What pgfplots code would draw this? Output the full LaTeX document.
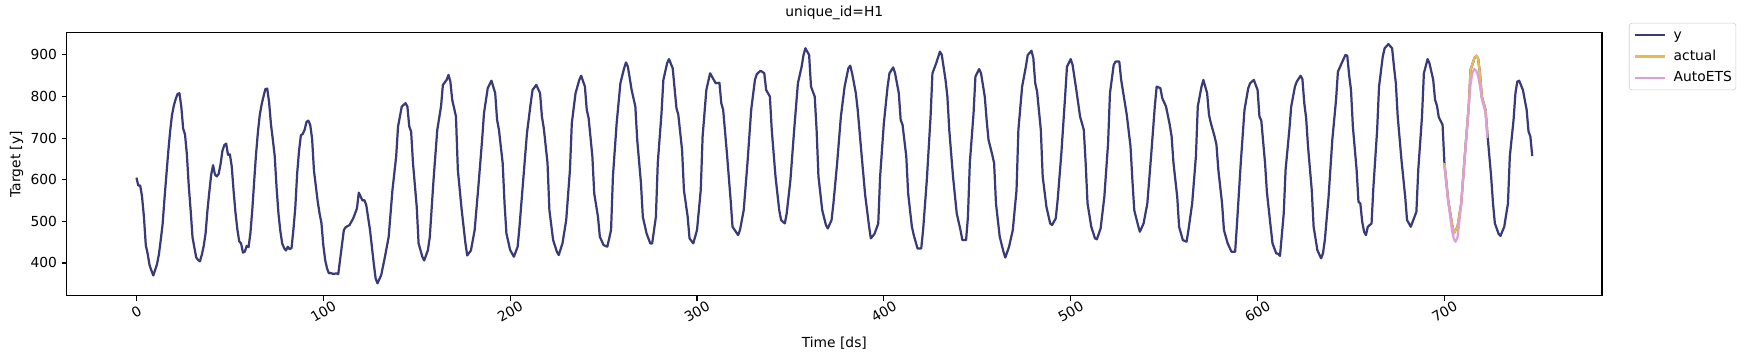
\documentclass[border=0pt]{standalone}
\usepackage{fontspec}
\setmainfont{DejaVu Sans}
\usepackage{pgfplots}
\pgfplotsset{compat=1.18}
\definecolor{ycol}{HTML}{393B79}
\definecolor{actcol}{HTML}{E7BA52}
\definecolor{etscol}{HTML}{DE9ED6}
\definecolor{legframe}{HTML}{CCCCCC}
\begin{document}
\fontsize{10}{12}\selectfont
\begin{tikzpicture}
\useasboundingbox (-48bp,-47.1bp) rectangle (1210bp,212.9bp);
\begin{axis}[
  at={(0,0)}, anchor=south west,
  width=1105.6bp, height=189.4bp, scale only axis,
  xmin=-37.35, xmax=784.35, ymin=321.4, ymax=953.6,
  xtick={0,100,200,300,400,500,600,700},
  ytick={400,500,600,700,800,900},
  tick align=outside, tick pos=left, major tick length=3.5bp,
  every tick/.style={black, line width=0.8bp},
  axis line style={line width=0.8bp},
  /pgf/number format/assume math mode=true,
  ticklabel style={font=\fontsize{10}{12}\selectfont},
  xticklabel style={rotate=30, anchor=center},
  xticklabel shift=8bp,
  title={unique\_id=H1},
  every axis title/.style={at={(axis description cs:0.5,1)}, anchor=center, yshift=13.9bp, font=\fontsize{10}{12}\selectfont},
  xlabel={Time [ds]}, ylabel={Target [y]},
  every axis x label/.style={at={(axis description cs:0.5,-0.1795)}, anchor=center, font=\fontsize{10}{12}\selectfont},
  every axis y label/.style={at={(axis description cs:-0.03256,0.5)}, rotate=90, anchor=center, font=\fontsize{10}{12}\selectfont},
  legend style={at={(axis description cs:1.01755,1.037)}, anchor=north west,
    draw=legframe, rounded corners=2bp, fill=white,
    inner xsep=3bp, inner ysep=3.8bp, row sep=5.5bp, column sep=5.8bp,
    nodes={inner sep=0pt, text height=7.6bp, text depth=2.2bp},
    font=\fontsize{10}{12}\selectfont},
  legend cell align=left,
  legend image code/.code={\draw[#1] (0bp,0bp) -- (21.6bp,0bp);},
]
\addplot[ycol, line width=1.6bp, line join=round, mark=none] coordinates {
(0,605) (1,586) (2,586) (3,559) (4,511) (5,443) (6,422) (7,395) (8,382) (9,370)
(10,383) (11,397) (12,420) (13,455) (14,493) (15,554) (16,610) (17,666) (18,715) (19,755)
(20,778) (21,794) (22,806) (23,808) (24,776) (25,723) (26,709) (27,660) (28,585) (29,527)
(30,462) (31,437) (32,413) (33,407) (34,404) (35,420) (36,441) (37,471) (38,526) (39,571)
(40,612) (41,635) (42,613) (43,608) (44,614) (45,637) (46,669) (47,683) (48,687) (49,660)
(50,661) (51,632) (52,573) (53,521) (54,481) (55,452) (56,447) (57,425) (58,427) (59,441)
(60,438) (61,472) (62,528) (63,596) (64,661) (65,714) (66,756) (67,781) (68,800) (69,818)
(70,819) (71,786) (72,733) (73,696) (74,657) (75,581) (76,519) (77,477) (78,447) (79,436)
(80,430) (81,439) (82,433) (83,436) (84,480) (85,532) (86,614) (87,669) (88,707) (89,710)
(90,720) (91,739) (92,742) (93,732) (94,699) (95,622) (96,585) (97,548) (98,519) (99,496)
(100,443) (101,407) (102,387) (103,375) (104,376) (105,374) (106,374) (107,375) (108,373)
(111,479) (112,486) (114,491) (116,507) (118,531) (119,569) (121,550) (122,551) (123,539)
(125,479) (127,399) (128,363) (129,351) (131,371) (133,415) (135,463) (137,575) (139,656)
(140,728) (142,776) (144,784) (145,776) (146,728) (147,716) (148,640) (150,535) (151,447)
(153,415) (154,406) (156,431) (157,463) (159,600) (161,720) (163,776) (164,828) (166,840)
(167,852) (168,836) (169,792) (171,752) (172,624) (174,530) (176,450) (177,418) (179,430)
(181,479) (183,584) (185,696) (186,760) (188,820) (190,838) (192,808) (193,744) (194,720)
(196,640) (197,543) (198,471) (200,431) (202,415) (204,439) (205,487) (207,600) (209,712)
(211,784) (212,816) (214,828) (216,808) (217,752) (218,724) (220,640) (221,527) (223,455)
(225,427) (226,419) (228,447) (230,503) (232,624) (233,736) (235,808) (237,840) (238,850)
(240,824) (241,768) (242,748) (244,656) (245,567) (247,511) (248,463) (250,443) (252,439)
(254,479) (255,608) (257,736) (259,832) (261,868) (262,882) (263,872) (265,816) (267,776)
(268,696) (270,592) (271,511) (273,471) (275,447) (276,447) (278,511) (279,640) (281,760)
(282,840) (284,880) (285,890) (287,868) (289,772) (290,756) (292,672) (293,575) (295,511)
(296,459) (298,447) (300,479) (302,575) (303,704) (305,816) (307,856) (309,840) (310,832)
(312,833) (313,784) (314,768) (316,664) (318,551) (319,487) (322,467) (323,479) (325,527)
(327,640) (329,768) (331,840) (332,854) (334,862) (336,856) (337,816) (339,800) (340,720)
(342,608) (344,527) (345,503) (347,495) (348,519) (350,600) (352,720) (354,832) (356,872)
(357,900) (358,916) (360,900) (361,824) (363,800) (364,720) (365,608) (367,527) (369,491)
(370,483) (372,503) (373,543) (375,640) (377,752) (379,824) (381,868) (382,874) (383,856)
(385,808) (386,768) (388,664) (390,563) (392,491) (393,459) (395,470) (397,495) (398,608)
(400,736) (402,824) (403,856) (405,870) (406,856) (408,808) (409,744) (410,732) (412,656)
(413,567) (415,487) (416,467) (418,435) (420,435) (421,479) (423,600) (425,752) (426,856)
(428,880) (430,908) (431,900) (433,840) (434,800) (435,720) (437,608) (439,519) (441,479)
(442,455) (444,455) (445,511) (446,640) (448,760) (449,848) (451,866) (452,856) (454,800)
(455,744) (456,696) (458,660) (459,640) (460,543) (462,463) (464,427) (465,413) (467,439)
(469,479) (471,575) (472,720) (474,824) (476,872) (477,900) (479,910) (480,892) (481,832)
(482,812) (484,720) (485,608) (487,535) (489,495) (490,491) (492,507) (493,551) (495,664)
(497,800) (498,872) (500,890) (501,876) (503,816) (505,752) (507,720) (508,640) (509,543)
(511,487) (513,459) (514,457) (516,483) (518,559) (520,688) (521,808) (523,876) (524,884)
(526,884) (527,840) (529,784) (530,756) (532,680) (533,600) (534,527) (536,491) (537,475)
(539,495) (541,543) (543,656) (545,776) (546,824) (548,820) (549,796) (551,776) (553,732)
(554,704) (555,640) (557,559) (558,487) (560,455) (562,451) (563,479) (565,543) (567,656)
(568,776) (570,824) (571,840) (573,808) (574,756) (575,736) (577,704) (578,684) (579,624)
(581,543) (582,479) (584,447) (586,427) (588,427) (589,495) (591,640) (593,768) (595,820)
(596,832) (598,840) (600,816) (601,752) (602,742) (604,640) (605,570) (607,487) (608,447)
(610,423) (611,422) (612,417) (614,519) (615,624) (617,720) (618,776) (620,824) (621,836)
(623,850) (624,842) (625,784) (626,748) (627,680) (629,575) (630,487) (632,431) (634,411)
(635,423) (636,455) (638,559) (640,696) (642,792) (643,860) (645,880) (647,900) (648,898)
(649,852) (650,816) (651,728) (653,624) (654,547) (655,543) (656,499) (657,475) (658,467)
(659,487) (661,495) (662,583) (664,720) (665,824) (667,896) (668,916) (670,926) (672,916)
(673,872) (674,832) (675,752) (677,648) (679,559) (680,503) (682,487) (684,511) (685,523)
(686,624) (688,752) (689,856) (691,890) (692,880) (694,840) (695,792) (696,778) (697,750)
(699,732) (700,640) (702,551) (704,495) (705,471) (707,487) (709,543) (711,664) (713,776)
(714,864) (716,892) (717,898) (718,892) (719,856) (720,800) (722,768) (723,710) (725,608)
(726,543) (727,495) (729,470) (730,465) (732,487) (734,543) (735,656) (737,744) (738,808)
(739,836) (740,838) (742,816) (744,768) (745,716) (746,704) (747,657)
};
\addlegendentry{y}
\addplot[actcol, line width=1.6bp, line join=round, mark=none] coordinates {
(700,640) (702,551) (704,495) (705,471) (707,487) (709,543) (711,664) (713,776)
(714,864) (716,892) (717,898) (718,892) (719,856) (720,800) (722,768) (723,710)
};
\addlegendentry{actual}
\addplot[etscol, line width=1.6bp, line join=round, mark=none] coordinates {
(700,632) (702,548) (704,480) (705,458) (706,451) (707,462) (708,500) (709,545)
(711,660) (713,775) (714,830) (715,858) (716,866) (717,862) (718,850) (719,825)
(720,795) (722,760) (723,700)
};
\addlegendentry{AutoETS}
\end{axis}
\end{tikzpicture}
\end{document}
